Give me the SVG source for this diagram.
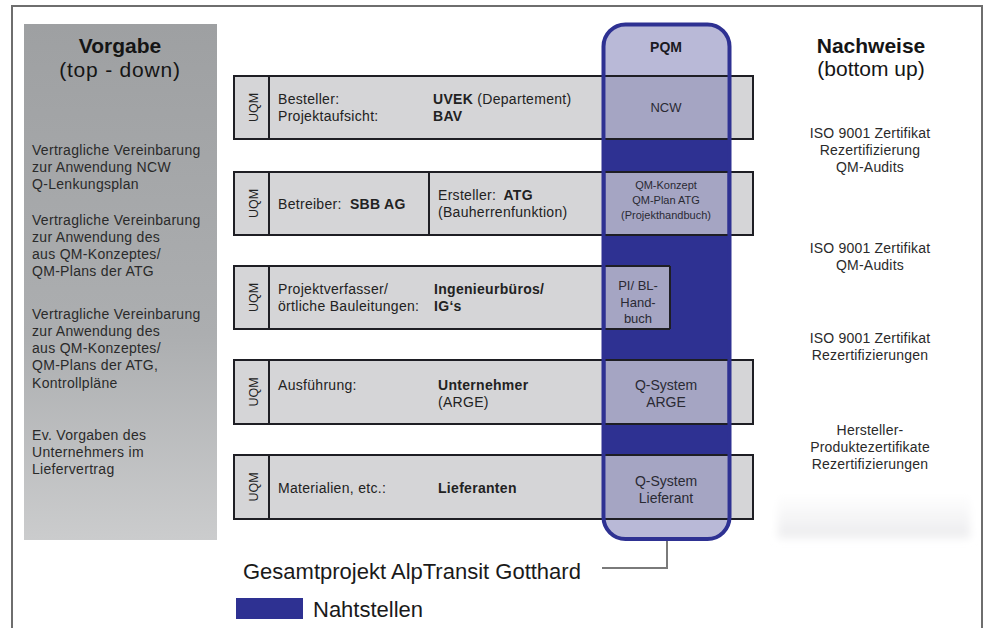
<svg xmlns="http://www.w3.org/2000/svg" width="986" height="628" viewBox="0 0 986 628">
<defs>
<linearGradient id="lp" x1="0" y1="0" x2="0" y2="1">
<stop offset="0" stop-color="#9ea0a2"/>
<stop offset="0.6" stop-color="#acaeb0"/>
<stop offset="1" stop-color="#cbcccd"/>
</linearGradient>
<linearGradient id="rp" x1="0" y1="0" x2="0" y2="1">
<stop offset="0" stop-color="#ffffff"/>
<stop offset="1" stop-color="#ececee"/>
</linearGradient>
<filter id="blur" x="-10%" y="-30%" width="120%" height="160%"><feGaussianBlur stdDeviation="4"/></filter>
<style>
text{font-family:"Liberation Sans",Arial,sans-serif;fill:#222;}
.t{font-size:14px;letter-spacing:0.3px;}
.b{font-weight:bold;}
.title{font-size:21px;text-anchor:middle;fill:#151515;}
.lt{font-size:14px;fill:#2a2a2a;letter-spacing:0.3px;}
.rt{font-size:14px;text-anchor:middle;fill:#2a2a2a;letter-spacing:0.2px;}
.uqm{font-size:12.5px;text-anchor:middle;}
.row{fill:#d5d5d7;stroke:#1e1e24;stroke-width:2;}
.ln{stroke:#1e1e24;stroke-width:2;}
.ib{fill:#a5a5c3;}
.ibt{text-anchor:middle;fill:#2a2a33;}
.dark{fill:#2e3192;}
</style>
</defs>

<rect width="986" height="628" fill="#ffffff"/>
<path d="M12 628 V6 H982 V628" fill="none" stroke="#6e6e6e" stroke-width="2"/>

<g id="vorgabe">
<rect x="24" y="24" width="193" height="516" fill="url(#lp)"/>
<text class="title b" x="120" y="53">Vorgabe</text>
<text class="title" x="120" y="77" style="letter-spacing:0.8px">(top - down)</text>
<text class="lt" x="32" y="155">Vertragliche Vereinbarung</text>
<text class="lt" x="32" y="172">zur Anwendung NCW</text>
<text class="lt" x="32" y="189">Q-Lenkungsplan</text>
<text class="lt" x="32" y="225">Vertragliche Vereinbarung</text>
<text class="lt" x="32" y="242">zur Anwendung des</text>
<text class="lt" x="32" y="259">aus QM-Konzeptes/</text>
<text class="lt" x="32" y="276">QM-Plans der ATG</text>
<text class="lt" x="32" y="319">Vertragliche Vereinbarung</text>
<text class="lt" x="32" y="336">zur Anwendung des</text>
<text class="lt" x="32" y="353">aus QM-Konzeptes/</text>
<text class="lt" x="32" y="370">QM-Plans der ATG,</text>
<text class="lt" x="32" y="388">Kontrollpläne</text>
<text class="lt" x="32" y="440">Ev. Vorgaben des</text>
<text class="lt" x="32" y="457">Unternehmers im</text>
<text class="lt" x="32" y="474">Liefervertrag</text>
</g>

<g id="row1">
<rect class="row" x="234" y="76" width="519" height="63"/>
<line class="ln" x1="269" y1="76" x2="269" y2="139"/>
<text class="uqm" transform="translate(258,107.5) rotate(-90)">UQM</text>
<text class="t" x="278" y="104">Besteller:</text>
<text class="t" x="278" y="121">Projektaufsicht:</text>
<text class="t" x="433" y="104"><tspan class="b">UVEK</tspan> (Departement)</text>
<text class="t b" x="433" y="121">BAV</text>
</g>

<g id="row2">
<rect class="row" x="234" y="172" width="519" height="63"/>
<line class="ln" x1="269" y1="172" x2="269" y2="235"/>
<line class="ln" x1="429" y1="172" x2="429" y2="235"/>
<text class="uqm" transform="translate(258,203.5) rotate(-90)">UQM</text>
<text class="t" x="278" y="209">Betreiber: <tspan class="b" dx="4">SBB AG</tspan></text>
<text class="t" x="438" y="200">Ersteller: <tspan class="b" dx="3">ATG</tspan></text>
<text class="t" x="438" y="217">(Bauherrenfunktion)</text>
</g>

<g id="row3">
<rect class="row" x="234" y="266" width="436" height="63"/>
<line class="ln" x1="269" y1="266" x2="269" y2="329"/>
<text class="uqm" transform="translate(258,297.5) rotate(-90)">UQM</text>
<text class="t" x="278" y="294">Projektverfasser/</text>
<text class="t" x="278" y="311">örtliche Bauleitungen:</text>
<text class="t b" x="434" y="294">Ingenieurbüros/</text>
<text class="t b" x="434" y="311">IG‘s</text>
</g>

<g id="row4">
<rect class="row" x="234" y="360" width="519" height="64"/>
<line class="ln" x1="269" y1="360" x2="269" y2="424"/>
<text class="uqm" transform="translate(258,392) rotate(-90)">UQM</text>
<text class="t" x="278" y="390">Ausführung:</text>
<text class="t b" x="438" y="390">Unternehmer</text>
<text class="t" x="438" y="407">(ARGE)</text>
</g>

<g id="row5">
<rect class="row" x="234" y="455" width="519" height="64"/>
<line class="ln" x1="269" y1="455" x2="269" y2="519"/>
<text class="uqm" transform="translate(258,487) rotate(-90)">UQM</text>
<text class="t" x="278" y="493">Materialien, etc.:</text>
<text class="t b" x="438" y="493">Lieferanten</text>
</g>

<g id="pqm">
<rect x="603.5" y="24.5" width="126" height="514.5" rx="22" fill="#b9b9d7"/>
<rect class="dark" x="603.5" y="139" width="126" height="316"/>
<rect class="ib" x="605.5" y="76" width="122" height="63"/>
<rect class="ib" x="605.5" y="172" width="122" height="63"/>
<rect class="ib" x="605.5" y="266" width="64.5" height="63"/>
<rect class="ib" x="605.5" y="360" width="122" height="64"/>
<rect class="ib" x="605.5" y="455" width="122" height="64"/>
<g class="ln">
<line x1="604" y1="76" x2="729" y2="76"/>
<line x1="604" y1="139" x2="729" y2="139"/>
<line x1="604" y1="172" x2="729" y2="172"/>
<line x1="604" y1="235" x2="729" y2="235"/>
<line x1="604" y1="266" x2="670" y2="266"/>
<line x1="604" y1="329" x2="670" y2="329"/>
<line x1="670" y1="266" x2="670" y2="329"/>
<line x1="604" y1="360" x2="729" y2="360"/>
<line x1="604" y1="424" x2="729" y2="424"/>
<line x1="604" y1="455" x2="729" y2="455"/>
<line x1="604" y1="519" x2="729" y2="519"/>
</g>
<rect x="603.5" y="24.5" width="126" height="514.5" rx="22" fill="none" stroke="#2e3192" stroke-width="4"/>
<text class="ibt b" x="666" y="52" style="font-size:14px;fill:#1a1a22">PQM</text>
<text class="ibt" x="666" y="112" style="font-size:13px">NCW</text>
<text class="ibt" x="666" y="189" style="font-size:11px">QM-Konzept</text>
<text class="ibt" x="666" y="204" style="font-size:11px">QM-Plan ATG</text>
<text class="ibt" x="666" y="219" style="font-size:11px">(Projekthandbuch)</text>
<text class="ibt" x="638" y="290" style="font-size:13px">PI/ BL-</text>
<text class="ibt" x="638" y="307" style="font-size:13px">Hand-</text>
<text class="ibt" x="638" y="323" style="font-size:13px">buch</text>
<text class="ibt" x="666" y="390" style="font-size:14px">Q-System</text>
<text class="ibt" x="666" y="407" style="font-size:14px">ARGE</text>
<text class="ibt" x="666" y="486" style="font-size:14px">Q-System</text>
<text class="ibt" x="666" y="503" style="font-size:14px">Lieferant</text>
</g>

<g id="nachweise">
<rect x="778" y="494" width="192" height="44" fill="url(#rp)" filter="url(#blur)"/>
<text class="title b" x="871" y="53">Nachweise</text>
<text class="title" x="871" y="76">(bottom up)</text>
<text class="rt" x="870" y="138">ISO 9001 Zertifikat</text>
<text class="rt" x="870" y="155">Rezertifizierung</text>
<text class="rt" x="870" y="172">QM-Audits</text>
<text class="rt" x="870" y="253">ISO 9001 Zertifikat</text>
<text class="rt" x="870" y="270">QM-Audits</text>
<text class="rt" x="870" y="343">ISO 9001 Zertifikat</text>
<text class="rt" x="870" y="360">Rezertifizierungen</text>
<text class="rt" x="870" y="435">Hersteller-</text>
<text class="rt" x="870" y="452">Produktezertifikate</text>
<text class="rt" x="870" y="469">Rezertifizierungen</text>
</g>

<g id="connectors">
<path d="M602 568 H667 V541" fill="none" stroke="#7a7a7a" stroke-width="2"/>
</g>

<g id="gesamtprojekt">
<text x="243" y="579" style="font-size:22px;fill:#1a1a1a">Gesamtprojekt AlpTransit Gotthard</text>
</g>

<g id="legend">
<rect class="dark" x="236" y="598" width="67" height="21"/>
<text x="313" y="617" style="font-size:22px;fill:#1a1a1a">Nahtstellen</text>
</g>
</svg>
